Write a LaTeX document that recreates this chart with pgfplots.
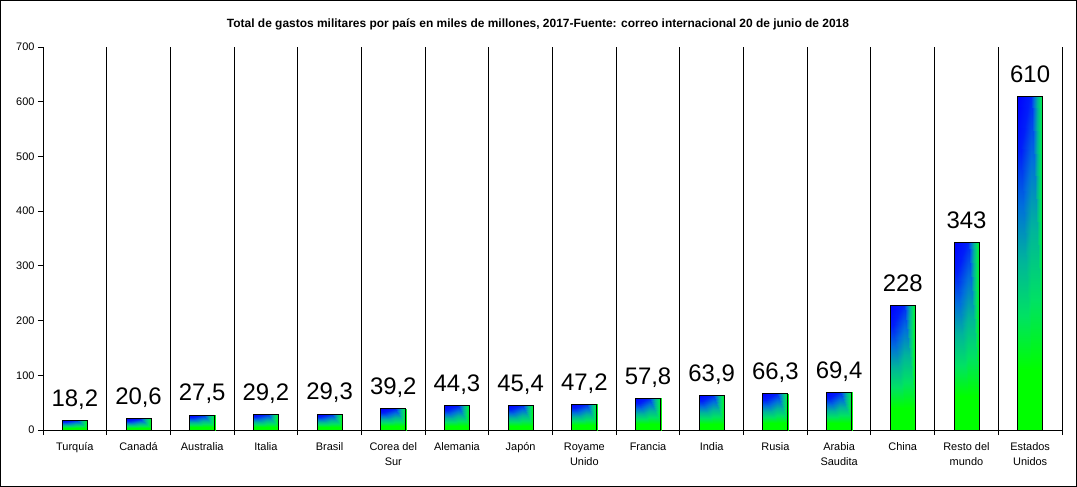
\documentclass[border=0pt]{standalone}
\usepackage{fontspec}
\setmainfont{Liberation Sans}
\usepackage{pgfplots}
\pgfplotsset{compat=1.18}
\usepgfplotslibrary{patchplots}
\pgfplotsset{colormap={bargrad}{rgb255=(0,255,0) rgb255=(0,225,100) rgb255=(0,180,155) rgb255=(0,110,220) rgb255=(0,30,250) rgb255=(0,0,255)}}
\begin{document}
\begin{tikzpicture}
\useasboundingbox (-43bp,-57bp) rectangle (1034bp,430bp);
\draw[line width=1bp] (-42.5bp,-56.5bp) rectangle (1033.5bp,429.5bp);
\begin{axis}[
  at={(0bp,0bp)}, anchor=south west,
  scale only axis, width=1019bp, height=383bp,
  xmin=-0.5, xmax=15.5, ymin=0, ymax=700,
  axis x line*=bottom, axis y line*=left,
  axis line style={black, line width=0.9bp},
  tick align=outside, major tick length=5bp,
  tick style={black, line width=0.9bp},
  ytick={0,100,...,700},
  yticklabel style={font=\fontsize{11}{12}\selectfont},
  /pgf/number format/assume math mode=true,
  xtick={-0.5,0.5,...,15.5},
  xticklabels={},
  xmajorgrids=true,
  grid style={black, line width=0.9bp},
  extra x ticks={0,1,...,15},
  extra x tick labels={Turquía,Canadá,Australia,Italia,Brasil,{Corea del\\Sur},Alemania,Japón,{Royame\\Unido},Francia,India,Rusia,{Arabia\\Saudita},China,{Resto del\\mundo},{Estados\\Unidos}},
  extra x tick style={major tick length=0pt, grid=none,
     tick label style={font=\fontsize{11}{15}\selectfont, align=center, yshift=-9bp}},
  colormap name=bargrad,
  clip=false,
]
% gradient fill: per bar a green lower patch, then a left and a right patch above it
\addplot[patch, patch type=rectangle, shader=interp, point meta=explicit, point meta min=0, point meta max=1]
 table[meta=c] {
 x y c
 -0.196 0 0
 0.196 0 0
 0.196 3.28 0
 -0.196 3.28 0
 -0.196 3.28 0
 0.020 3.28 0
 0.020 18.2 0.78
 -0.196 18.2 1
 0.020 3.28 0
 0.196 3.28 0
 0.196 18.2 0.05
 0.020 18.2 0.78
 0.804 0 0
 1.196 0 0
 1.196 3.71 0
 0.804 3.71 0
 0.804 3.71 0
 1.020 3.71 0
 1.020 20.6 0.78
 0.804 20.6 1
 1.020 3.71 0
 1.196 3.71 0
 1.196 20.6 0.05
 1.020 20.6 0.78
 1.804 0 0
 2.196 0 0
 2.196 4.95 0
 1.804 4.95 0
 1.804 4.95 0
 2.020 4.95 0
 2.020 27.5 0.78
 1.804 27.5 1
 2.020 4.95 0
 2.196 4.95 0
 2.196 27.5 0.05
 2.020 27.5 0.78
 2.804 0 0
 3.196 0 0
 3.196 5.26 0
 2.804 5.26 0
 2.804 5.26 0
 3.020 5.26 0
 3.020 29.2 0.78
 2.804 29.2 1
 3.020 5.26 0
 3.196 5.26 0
 3.196 29.2 0.05
 3.020 29.2 0.78
 3.804 0 0
 4.196 0 0
 4.196 5.27 0
 3.804 5.27 0
 3.804 5.27 0
 4.020 5.27 0
 4.020 29.3 0.78
 3.804 29.3 1
 4.020 5.27 0
 4.196 5.27 0
 4.196 29.3 0.05
 4.020 29.3 0.78
 4.804 0 0
 5.196 0 0
 5.196 7.06 0
 4.804 7.06 0
 4.804 7.06 0
 5.020 7.06 0
 5.020 39.2 0.78
 4.804 39.2 1
 5.020 7.06 0
 5.196 7.06 0
 5.196 39.2 0.05
 5.020 39.2 0.78
 5.804 0 0
 6.196 0 0
 6.196 7.97 0
 5.804 7.97 0
 5.804 7.97 0
 6.020 7.97 0
 6.020 44.3 0.78
 5.804 44.3 1
 6.020 7.97 0
 6.196 7.97 0
 6.196 44.3 0.05
 6.020 44.3 0.78
 6.804 0 0
 7.196 0 0
 7.196 8.17 0
 6.804 8.17 0
 6.804 8.17 0
 7.020 8.17 0
 7.020 45.4 0.78
 6.804 45.4 1
 7.020 8.17 0
 7.196 8.17 0
 7.196 45.4 0.05
 7.020 45.4 0.78
 7.804 0 0
 8.196 0 0
 8.196 8.50 0
 7.804 8.50 0
 7.804 8.50 0
 8.020 8.50 0
 8.020 47.2 0.78
 7.804 47.2 1
 8.020 8.50 0
 8.196 8.50 0
 8.196 47.2 0.05
 8.020 47.2 0.78
 8.804 0 0
 9.196 0 0
 9.196 10.40 0
 8.804 10.40 0
 8.804 10.40 0
 9.020 10.40 0
 9.020 57.8 0.78
 8.804 57.8 1
 9.020 10.40 0
 9.196 10.40 0
 9.196 57.8 0.05
 9.020 57.8 0.78
 9.804 0 0
 10.196 0 0
 10.196 11.50 0
 9.804 11.50 0
 9.804 11.50 0
 10.020 11.50 0
 10.020 63.9 0.78
 9.804 63.9 1
 10.020 11.50 0
 10.196 11.50 0
 10.196 63.9 0.05
 10.020 63.9 0.78
 10.804 0 0
 11.196 0 0
 11.196 11.93 0
 10.804 11.93 0
 10.804 11.93 0
 11.020 11.93 0
 11.020 66.3 0.78
 10.804 66.3 1
 11.020 11.93 0
 11.196 11.93 0
 11.196 66.3 0.05
 11.020 66.3 0.78
 11.804 0 0
 12.196 0 0
 12.196 12.49 0
 11.804 12.49 0
 11.804 12.49 0
 12.020 12.49 0
 12.020 69.4 0.78
 11.804 69.4 1
 12.020 12.49 0
 12.196 12.49 0
 12.196 69.4 0.05
 12.020 69.4 0.78
 12.804 0 0
 13.196 0 0
 13.196 41.04 0
 12.804 41.04 0
 12.804 41.04 0
 13.020 41.04 0
 13.020 228 0.78
 12.804 228 1
 13.020 41.04 0
 13.196 41.04 0
 13.196 228 0.05
 13.020 228 0.78
 13.804 0 0
 14.196 0 0
 14.196 61.74 0
 13.804 61.74 0
 13.804 61.74 0
 14.020 61.74 0
 14.020 343 0.78
 13.804 343 1
 14.020 61.74 0
 14.196 61.74 0
 14.196 343 0.05
 14.020 343 0.78
 14.804 0 0
 15.196 0 0
 15.196 109.8 0
 14.804 109.8 0
 14.804 109.8 0
 15.020 109.8 0
 15.020 610 0.78
 14.804 610 1
 15.020 109.8 0
 15.196 109.8 0
 15.196 610 0.05
 15.020 610 0.78
 };
% bar outlines and value labels
\addplot[ybar, bar width=25bp, draw=black, fill=none, line width=0.9bp,
  point meta=explicit symbolic, nodes near coords,
  every node near coord/.append style={font=\fontsize{24}{26}\selectfont, anchor=base, yshift=14bp}]
 coordinates {
 (0,18.2) [18,2]
 (1,20.6) [20,6]
 (2,27.5) [27,5]
 (3,29.2) [29,2]
 (4,29.3) [29,3]
 (5,39.2) [39,2]
 (6,44.3) [44,3]
 (7,45.4) [45,4]
 (8,47.2) [47,2]
 (9,57.8) [57,8]
 (10,63.9) [63,9]
 (11,66.3) [66,3]
 (12,69.4) [69,4]
 (13,228) [228]
 (14,343) [343]
 (15,610) [610]
 };
\end{axis}
\node[font=\bfseries\fontsize{12}{14}\selectfont] at (495bp,406bp) {Total de gastos militares por país en miles de millones, 2017-Fuente: correo internacional 20 de junio de 2018};
\end{tikzpicture}
\end{document}
